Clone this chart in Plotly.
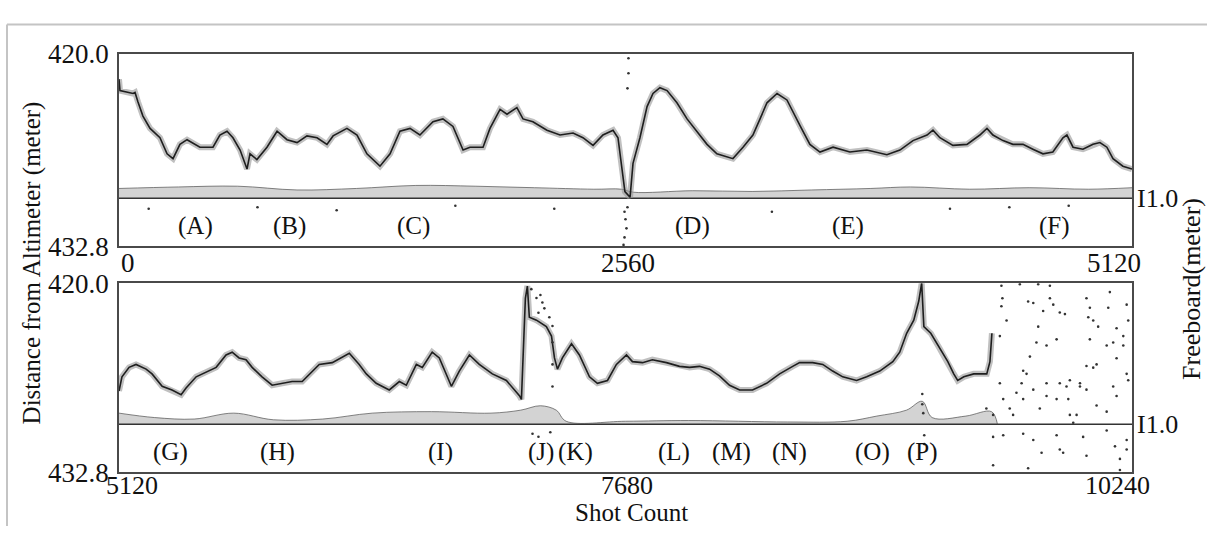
import plotly.graph_objects as go

# ---------------- data ----------------
# Upper panel: shots 0 - 5120, distance from altimeter (m)
top_shot = [0, 5, 71, 81, 96, 121, 157, 207, 243, 273, 308, 344, 409, 475, 510, 546, 576, 612, 647, 662,
            697, 748, 799, 849, 900, 950, 1001, 1051, 1082, 1152, 1203, 1253, 1319, 1370, 1420, 1471, 1521,
            1587, 1637, 1688, 1739, 1774, 1840, 1875, 1926, 1961, 2011, 2042, 2092, 2163, 2229, 2295, 2345,
            2396, 2446, 2497, 2522, 2542, 2557, 2583, 2598, 2633, 2669, 2699, 2734, 2770, 2820, 2871, 2921,
            2972, 3022, 3073, 3103, 3154, 3204, 3240, 3275, 3326, 3376, 3442, 3492, 3543, 3609, 3694, 3780,
            3881, 3947, 4013, 4084, 4114, 4149, 4215, 4286, 4351, 4387, 4417, 4468, 4518, 4569, 4619, 4670,
            4720, 4771, 4791, 4822, 4872, 4923, 4958, 4993, 5024, 5074, 5120]
top_dist = [421.69, 422.45, 422.64, 422.57, 423.20, 424.14, 424.96, 425.58, 426.65, 426.97, 426.02, 425.71,
            426.21, 426.21, 425.40, 425.15, 425.58, 426.40, 427.66, 426.65, 427.03, 426.21, 425.15, 425.71,
            425.90, 425.46, 425.58, 426.02, 425.46, 424.96, 425.40, 426.65, 427.47, 426.65, 425.15, 424.96,
            425.40, 424.52, 424.33, 424.83, 426.40, 426.21, 426.21, 424.96, 423.70, 424.02, 423.58, 424.33,
            424.52, 425.08, 425.40, 425.27, 425.58, 426.09, 425.40, 425.08, 425.58, 427.66, 429.16, 429.54,
            427.28, 425.58, 423.51, 422.64, 422.26, 422.45, 423.26, 424.33, 425.15, 426.02, 426.65, 426.84,
            426.97, 426.21, 425.40, 424.33, 423.26, 422.64, 423.07, 424.77, 426.02, 426.53, 426.21, 426.53,
            426.40, 426.71, 426.40, 425.77, 425.40, 425.08, 425.58, 426.09, 426.02, 425.40, 424.96, 425.40,
            425.77, 426.02, 426.02, 426.34, 426.65, 426.53, 425.58, 425.40, 426.21, 426.34, 426.02, 425.90,
            426.21, 426.97, 427.47, 427.66]

# Lower panel: shots 5120 - 10240
bot_shot = [5120, 5135, 5171, 5206, 5257, 5287, 5338, 5388, 5434, 5459, 5510, 5560, 5611, 5661, 5692, 5727,
            5762, 5793, 5843, 5894, 5945, 5995, 6046, 6096, 6132, 6198, 6268, 6284, 6334, 6370, 6420, 6486,
            6537, 6572, 6623, 6653, 6703, 6739, 6800, 6840, 6891, 6941, 7007, 7078, 7144, 7154, 7174, 7184,
            7194, 7230, 7280, 7306, 7321, 7336, 7361, 7407, 7447, 7498, 7538, 7589, 7634, 7685, 7715, 7766,
            7816, 7887, 7953, 8004, 8054, 8105, 8155, 8206, 8257, 8322, 8393, 8459, 8525, 8560, 8626, 8677,
            8727, 8778, 8848, 8899, 8965, 9031, 9066, 9101, 9137, 9162, 9177, 9188, 9223, 9268, 9309, 9339,
            9359, 9390, 9440, 9506, 9522, 9532]
bot_dist = [427.30, 426.34, 425.70, 425.50, 425.82, 426.14, 426.98, 427.23, 427.55, 427.10, 426.34, 426.02,
            425.70, 424.86, 424.67, 425.06, 425.18, 425.70, 426.34, 426.91, 426.78, 426.66, 426.66, 425.95,
            425.50, 425.38, 424.86, 424.74, 425.50, 426.14, 426.78, 427.23, 426.66, 426.91, 425.50, 425.70,
            424.67, 425.06, 426.98, 425.95, 424.86, 425.50, 426.14, 426.59, 427.62, 427.87, 421.02, 420.19,
            422.30, 422.50, 422.94, 423.58, 425.06, 425.82, 425.06, 424.10, 424.86, 426.34, 426.78, 426.59,
            425.50, 424.86, 425.31, 425.38, 425.18, 425.38, 425.63, 425.70, 425.63, 425.82, 426.27, 426.91,
            427.23, 427.23, 426.78, 426.14, 425.63, 425.38, 425.38, 425.50, 425.95, 426.34, 426.59, 426.34,
            425.95, 425.31, 424.67, 423.39, 422.50, 421.22, 420.00, 422.94, 423.39, 424.42, 425.31, 426.14,
            426.59, 426.34, 426.14, 426.14, 425.31, 423.39]

# Freeboard reference level (zero freeboard) and freeboard-surface envelope (distance, m)
top_base = 429.60
bot_base = 429.55
top_fb_shot = [0, 300, 600, 900, 1200, 1500, 1800, 2100, 2400, 2540, 2600, 2900, 3200, 3500, 3800, 4000,
               4300, 4600, 4900, 5120]
top_fb_dist = [428.95, 428.85, 428.80, 429.05, 428.95, 428.75, 428.80, 428.90, 429.00, 429.00, 429.20,
               429.10, 429.15, 429.05, 428.95, 428.85, 429.00, 428.90, 429.00, 428.90]
bot_fb_shot = [5120, 5300, 5500, 5700, 5900, 6150, 6400, 6700, 7000, 7150, 7250, 7330, 7380, 7680, 8000,
               8500, 8800, 8950, 9100, 9180, 9230, 9400, 9530, 9560]
bot_fb_dist = [428.80, 429.10, 429.20, 428.80, 429.25, 429.20, 428.80, 428.70, 428.80, 428.60, 428.30,
               428.60, 429.35, 429.35, 429.30, 429.40, 429.35, 429.00, 428.60, 428.00, 429.10, 429.00,
               428.70, 429.55]

# Isolated returns (scattered points)
top_pts_shot = [2555, 2560, 2565, 2555, 2570, 2550, 2575, 2575, 2570, 150, 700, 1100, 1700, 2200, 3300,
                4200, 4500, 4800]
top_pts_dist = [430.5, 431.0, 431.6, 432.2, 430.2, 432.7, 420.3, 421.3, 422.3, 430.3, 430.2, 430.4, 430.1,
                430.3, 430.5, 430.3, 430.2, 430.1]
bot_pts_shot = [9580, 9585, 9580, 9673, 9766, 9825, 9715, 9741, 9825, 9842, 9791, 9875, 9901, 10010, 10027,
                10019, 10044, 10069, 10128, 10120, 10213, 10221, 10162, 10145, 10112, 10196, 9766, 9757, 9808,
                9859, 9724, 9690, 9682, 9707, 9741, 9808, 9875, 9926, 9977, 10010, 10044, 10010, 10162, 10213,
                10145, 10162, 10112, 10061, 9859, 9808, 9774, 9690, 9656, 9622, 9639, 9572, 9589, 9538, 9504,
                9909, 9918, 9926, 9943, 9960, 9977, 9538, 9589, 9690, 9741, 9783, 9859, 9875, 9892, 9993,
                10010, 10112, 10154, 10179, 10213, 10213, 9715, 9538, 10179, 9572, 9606, 10027, 10061, 10196,
                10221, 7204, 7230, 7250, 7270, 7295, 7311, 7240, 7260, 7311, 7311, 7311, 7210, 7240, 7300,
                9180, 9180, 9185, 9190, 9190]
bot_pts_dist = [420.17, 421.02, 421.56, 420.06, 420.06, 420.17, 421.24, 421.34, 421.02, 421.45, 421.88,
                421.98, 422.09, 421.02, 421.66, 422.30, 422.52, 422.94, 420.60, 421.66, 421.45, 422.52,
                423.05, 424.01, 424.22, 424.22, 422.94, 424.01, 424.22, 423.80, 424.97, 425.93, 426.78,
                426.14, 427.21, 426.78, 426.78, 426.57, 426.78, 427.21, 425.72, 425.61, 425.08, 426.14,
                427.00, 427.64, 428.70, 428.28, 427.85, 427.64, 428.49, 427.85, 427.42, 428.49, 428.92,
                426.78, 427.85, 428.92, 428.49, 427.00, 427.85, 428.92, 429.45, 428.92, 427.00, 430.41,
                430.30, 430.20, 430.62, 431.48, 430.30, 431.26, 431.48, 430.41, 431.69, 429.98, 431.05,
                431.90, 430.62, 431.26, 432.54, 432.33, 432.65, 423.58, 422.52, 423.80, 425.50, 423.58,
                426.57, 420.4, 421.0, 420.8, 421.7, 422.3, 422.9, 422.0, 421.3, 424.0, 425.5, 427.0,
                430.2, 430.4, 430.1, 427.5, 428.2, 428.8, 430.3, 430.9]

region_labels_top = ["(A)", "(B)", "(C)", "(D)", "(E)", "(F)"]
region_shots_top = [389, 864, 1486, 2901, 3685, 4726]
region_labels_bot = ["(G)", "(H)", "(I)", "(J)", "(K)", "(L)", "(M)", "(N)", "(O)", "(P)"]
region_shots_bot = [5378, 5919, 6747, 7253, 7425, 7925, 8218, 8511, 8926, 9179]
label_dist = 431.45

x_ticks_top = [0, 2560, 5120]
x_ticks_bot = [5120, 7680, 10240]
y_ticks = [420.0, 432.8]
y_tick_text = ["420.0", "432.8"]

# ---------------- figure ----------------
FONT = "Liberation Serif"
W, H = 1207, 541
fig = go.Figure()

panels = [
    dict(xa="x", ya="y", shot=top_shot, dist=top_dist, base=top_base, fbs=top_fb_shot, fbd=top_fb_dist,
         ps=top_pts_shot, pd=top_pts_dist, xr=[0, 5120]),
    dict(xa="x2", ya="y2", shot=bot_shot, dist=bot_dist, base=bot_base, fbs=bot_fb_shot, fbd=bot_fb_dist,
         ps=bot_pts_shot, pd=bot_pts_dist, xr=[5120, 10240]),
]

for p in panels:
    fig.add_trace(go.Scatter(x=p["xr"], y=[p["base"], p["base"]], mode="lines",
                             line=dict(color="#333333", width=1.6), xaxis=p["xa"], yaxis=p["ya"],
                             showlegend=False, hoverinfo="skip"))
    fig.add_trace(go.Scatter(x=p["fbs"], y=p["fbd"], mode="lines", fill="tonexty",
                             fillcolor="rgba(130,130,130,0.35)",
                             line=dict(color="rgba(80,80,80,0.7)", width=1.0, shape="spline"),
                             xaxis=p["xa"], yaxis=p["ya"], showlegend=False, hoverinfo="skip"))
    fig.add_trace(go.Scatter(x=p["shot"], y=p["dist"], mode="lines",
                             line=dict(color="rgba(150,150,150,0.6)", width=6),
                             xaxis=p["xa"], yaxis=p["ya"], showlegend=False, hoverinfo="skip"))
    fig.add_trace(go.Scatter(x=p["shot"], y=p["dist"], mode="lines",
                             line=dict(color="#1e1e1e", width=1.6),
                             xaxis=p["xa"], yaxis=p["ya"], showlegend=False, hoverinfo="skip"))
    fig.add_trace(go.Scatter(x=p["ps"], y=p["pd"], mode="markers",
                             marker=dict(color="#333333", size=2.6),
                             xaxis=p["xa"], yaxis=p["ya"], showlegend=False, hoverinfo="skip"))

x0, x1 = 119 / W, 1132 / W
axis_common = dict(showgrid=False, zeroline=False, showline=True, mirror=True,
                   linecolor="#4a4a4a", linewidth=1.6)
fig.update_layout(
    width=W, height=H, margin=dict(l=0, r=0, t=0, b=0),
    paper_bgcolor="white", plot_bgcolor="white",
    font=dict(family=FONT, color="#111111", size=25),
    xaxis=dict(domain=[x0, x1], range=[0, 5120], showticklabels=False, ticks="", **axis_common),
    yaxis=dict(domain=[1 - 245 / H, 1 - 41 / H], range=[432.8, 420.0], tickmode="array",
               tickvals=y_ticks, ticktext=y_tick_text, ticks="", tickfont=dict(size=27),
               ticklabelstandoff=3, **axis_common),
    xaxis2=dict(domain=[x0, x1], range=[5120, 10240], showticklabels=False, ticks="",
                anchor="y2", **axis_common),
    yaxis2=dict(domain=[1 - 484 / H, 1 - 284 / H], range=[432.8, 420.0], tickmode="array",
                tickvals=y_ticks, ticktext=y_tick_text, ticks="", tickfont=dict(size=27),
                ticklabelstandoff=3, anchor="x2", **axis_common),
)

ann = []
for lab, s in zip(region_labels_top, region_shots_top):
    ann.append(dict(x=s, y=label_dist, xref="x", yref="y", text=lab, showarrow=False,
                    xanchor="center", yanchor="middle", font=dict(size=25)))
for lab, s in zip(region_labels_bot, region_shots_bot):
    ann.append(dict(x=s, y=label_dist, xref="x2", yref="y2", text=lab, showarrow=False,
                    xanchor="center", yanchor="middle", font=dict(size=25)))

for v, a, sh in zip(x_ticks_top, ["left", "center", "right"], [0, 2, 11]):
    ann.append(dict(x=v, y=0, xref="x", yref="y domain", text=str(v), showarrow=False,
                    xanchor=a, yanchor="top", xshift=sh, yshift=0, font=dict(size=27)))
for v, a, sh in zip(x_ticks_bot, ["center", "center", "right"], [13, 1, 20]):
    ann.append(dict(x=v, y=0, xref="x2", yref="y2 domain", text=str(v), showarrow=False,
                    xanchor=a, yanchor="top", xshift=sh, yshift=3, font=dict(size=26)))

for xr, yr, base in [("x domain", "y", top_base), ("x2 domain", "y2", bot_base)]:
    ann.append(dict(x=1, y=base, xref=xr, yref=yr, text="I1.0", showarrow=False,
                    xanchor="left", yanchor="middle", xshift=3, font=dict(size=26)))

ann.append(dict(x=32 / W, y=1 - 263 / H, xref="paper", yref="paper", text="Distance from Altimeter (meter)",
                textangle=-90, showarrow=False, xanchor="center", yanchor="middle", font=dict(size=25)))
ann.append(dict(x=1192 / W, y=1 - 290 / H, xref="paper", yref="paper", text="Freeboard(meter)",
                textangle=-90, showarrow=False, xanchor="center", yanchor="middle", font=dict(size=26)))
ann.append(dict(x=631 / W, y=1 - 527 / H, xref="paper", yref="paper", text="Shot Count",
                showarrow=False, xanchor="center", yanchor="middle", font=dict(size=25)))
fig.update_layout(annotations=ann)

fig.add_shape(type="line", xref="paper", yref="paper", x0=7 / W, x1=7 / W, y0=0, y1=1 - 10 / H,
              line=dict(color="#c4c4c4", width=2))
fig.add_shape(type="line", xref="paper", yref="paper", x0=7 / W, x1=1, y0=1 - 10 / H, y1=1 - 10 / H,
              line=dict(color="#c4c4c4", width=2))

fig.write_html("out.html")
